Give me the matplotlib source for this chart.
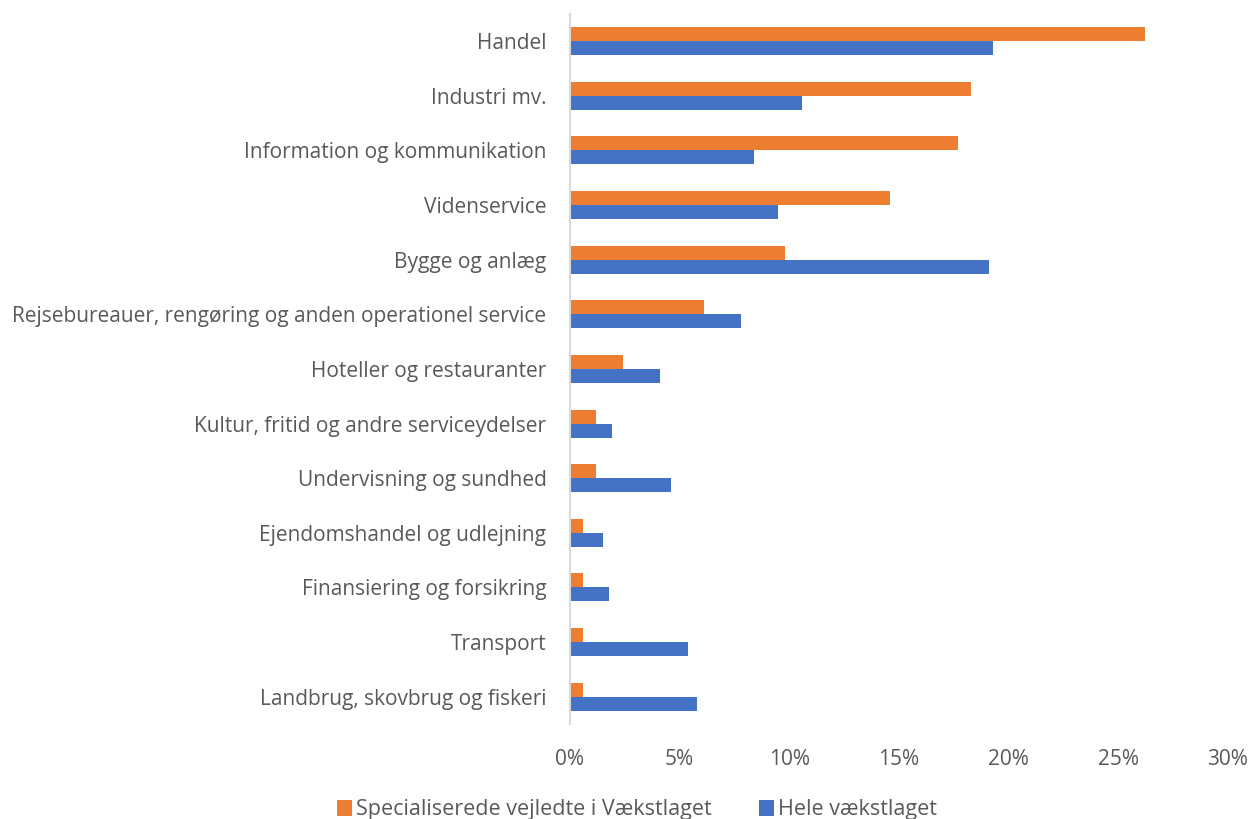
import numpy as np
import matplotlib.pyplot as plt
from matplotlib.ticker import FuncFormatter

# Data
categories = [
    "Handel",
    "Industri mv.",
    "Information og kommunikation",
    "Videnservice",
    "Bygge og anlæg",
    "Rejsebureauer, rengøring og anden operationel service",
    "Hoteller og restauranter",
    "Kultur, fritid og andre serviceydelser",
    "Undervisning og sundhed",
    "Ejendomshandel og udlejning",
    "Finansiering og forsikring",
    "Transport",
    "Landbrug, skovbrug og fiskeri",
]
specialiserede = [26.2, 18.3, 17.7, 14.6, 9.8, 6.1, 2.4, 1.2, 1.2, 0.6, 0.6, 0.6, 0.6]
hele = [19.3, 10.6, 8.4, 9.5, 19.1, 7.8, 4.1, 1.9, 4.6, 1.5, 1.8, 5.4, 5.8]
series_names = ["Specialiserede vejledte i Vækstlaget", "Hele vækstlaget"]

orange = "#ED7D31"
blue = "#4472C4"
text_col = "#595959"

plt.rcParams["font.family"] = ["Open Sans", "DejaVu Sans"]

fig = plt.figure(figsize=(12.5, 8.19), dpi=100)
ax = fig.add_axes([0.456, 0.116, 0.5264, 0.867])

n = len(categories)
y = np.arange(n)[::-1]
h = 0.256
ax.barh(y + h / 2, specialiserede, height=h, color=orange, label=series_names[0])
ax.barh(y - h / 2, hele, height=h, color=blue, label=series_names[1])

ax.set_ylim(-0.5, n - 0.5)
ax.set_xlim(0, 30)
ax.set_yticks(y)
ax.set_yticklabels(categories, fontsize=15, color=text_col)
ax.set_xticks(np.arange(0, 31, 5))
ax.xaxis.set_major_formatter(FuncFormatter(lambda v, p: f"{v:.0f}%"))
ax.tick_params(axis="x", labelsize=15, labelcolor=text_col, length=0, pad=18)
ax.tick_params(axis="y", length=0, pad=17)

for s in ["top", "right", "bottom"]:
    ax.spines[s].set_visible(False)
ax.spines["left"].set_color("#D9D9D9")
ax.spines["left"].set_linewidth(1.5)

fig.legend(loc="center", bbox_to_anchor=(637 / 1250, 1 - 810 / 819), ncol=2,
           frameon=False, fontsize=15.5, labelcolor=text_col, handlelength=0.7,
           handleheight=0.7, handletextpad=0.2, columnspacing=2.2)

plt.savefig("out.png", dpi=100)
plt.close()
